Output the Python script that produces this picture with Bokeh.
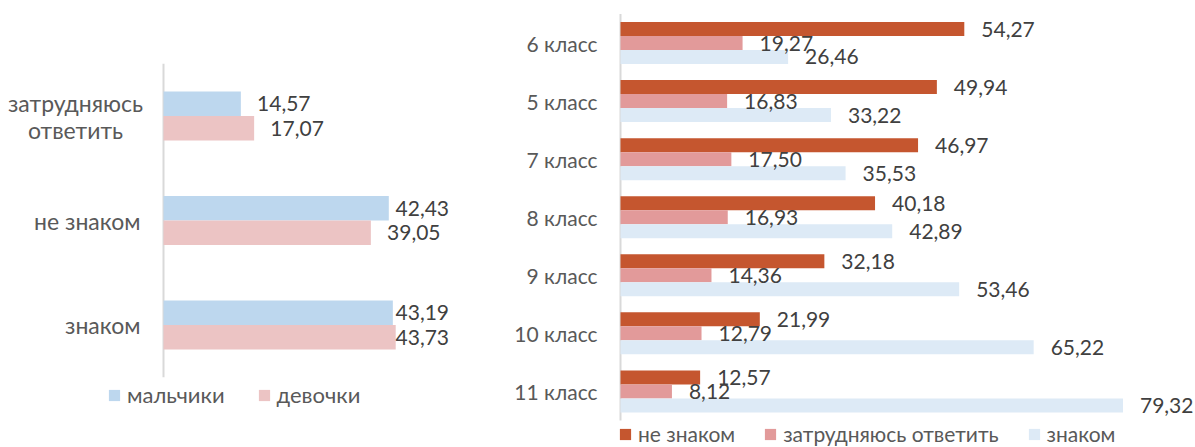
import numpy as np
from bokeh.plotting import figure
from bokeh.models import ColumnDataSource, Legend, LegendItem, Range1d
from bokeh.layouts import row
from bokeh.embed import file_html
from bokeh.resources import INLINE
from bokeh.core.properties import value

# ---------------- data ----------------
left_cats = ["затрудняюсь\nответить", "не знаком", "знаком"]
left_series = ["мальчики", "девочки"]
boys = [14.57, 42.43, 43.19]
girls = [17.07, 39.05, 43.73]

right_cats = ["6 класс", "5 класс", "7 класс", "8 класс", "9 класс", "10 класс", "11 класс"]
right_series = ["не знаком", "затрудняюсь ответить", "знаком"]
not_familiar = [54.27, 49.94, 46.97, 40.18, 32.18, 21.99, 12.57]
hard_to_say = [19.27, 16.83, 17.50, 16.93, 14.36, 12.79, 8.12]
familiar = [26.46, 33.22, 35.53, 42.89, 53.46, 65.22, 79.32]

FONT = "Lato"
TXT = "#595959"
NUM = "#404040"
AXIS = "#d9d9d9"
H = 446


def fmt(v):
    return f"{v:.2f}".replace(".", ",")


def make_fig(width, origin_px, px_per_unit, first_center_px, cat_step_px):
    """Figure whose frame fills the whole canvas; value 0 sits at origin_px."""
    xr = Range1d(-origin_px / px_per_unit, (width - origin_px) / px_per_unit)
    # inverted categorical-index axis: first category at the top
    yr = Range1d((H - first_center_px) / cat_step_px, -first_center_px / cat_step_px)
    p = figure(width=width, height=H, output_backend="svg", toolbar_location=None,
               x_range=xr, y_range=yr, min_border=0)
    p.axis.visible = False
    p.grid.visible = False
    p.outline_line_color = None
    return p


def draw_categories(p, cats, size, line_px, wrap_center_off, right_off):
    """Single-line labels right-aligned; wrapped labels as centred lines."""
    single = dict(y=[], t=[])
    wrapped = dict(y=[], t=[], yo=[])
    for i, c in enumerate(cats):
        parts = c.split("\n")
        k = len(parts)
        if k == 1:
            single["y"].append(i)
            single["t"].append(c)
        else:
            for j, t in enumerate(parts):
                wrapped["y"].append(i)
                wrapped["t"].append(t)
                wrapped["yo"].append((j - (k - 1) / 2) * line_px)
    common = dict(text_font=value(FONT), text_font_size=size, text_color=TXT,
                  text_baseline="middle")
    p.text(x=0, y="y", text="t", source=ColumnDataSource(single), x_offset=right_off,
           text_align="right", **common)
    if wrapped["y"]:
        p.text(x=0, y="y", text="t", source=ColumnDataSource(wrapped), x_offset=wrap_center_off,
               y_offset="yo", text_align="center", **common)


# ---------------- left chart ----------------
lp = make_fig(478, 163, 5.31, 115.5, 104.5)
nl = len(left_cats)
lidx = np.arange(nl)
lh = 0.234

lsrc = ColumnDataSource(dict(
    y_b=lidx - lh / 2, y_g=lidx + lh / 2,
    boys=boys, girls=girls,
    boys_lx=np.minimum(np.array(boys) + 3.05, 43.7),
    girls_lx=np.minimum(np.array(girls) + 3.05, 43.7),
    boys_t=[fmt(v) for v in boys], girls_t=[fmt(v) for v in girls],
))
lp.segment(x0=0, x1=0, y0=-0.5, y1=nl - 0.5, line_color=AXIS, line_width=2)
r_b = lp.hbar(y="y_b", left=0, right="boys", height=lh, source=lsrc,
              fill_color="#bdd7ee", line_color=None)
r_g = lp.hbar(y="y_g", left=0, right="girls", height=lh, source=lsrc,
              fill_color="#ecc4c4", line_color=None)
lp.text(x="boys_lx", y="y_b", text="boys_t", source=lsrc,
        text_font=value(FONT), text_font_size="21px", text_color=NUM,
        text_baseline="middle", text_align="left")
lp.text(x="girls_lx", y="y_g", text="girls_t", source=lsrc,
        text_font=value(FONT), text_font_size="21px", text_color=NUM,
        text_baseline="middle", text_align="left")
draw_categories(lp, left_cats, "23px", 27, -88, -23)

lleg = Legend(items=[LegendItem(label=left_series[0], renderers=[r_b]),
                     LegendItem(label=left_series[1], renderers=[r_g])],
              orientation="horizontal", location=(107, 38),
              glyph_width=14, glyph_height=14, label_standoff=6, spacing=32,
              padding=0, margin=0, border_line_color=None, background_fill_alpha=0,
              label_text_font=FONT, label_text_font_size="22px", label_text_color=TXT)
lp.add_layout(lleg)

# ---------------- right chart ----------------
rp = make_fig(716, 142, 6.335, 42.5, 58.07)
nr = len(right_cats)
ridx = np.arange(nr)
rh = 0.241
offsets = [-rh, 0, rh]

rsrc = ColumnDataSource(dict(
    ya=ridx + offsets[0], yb=ridx + offsets[1], yc=ridx + offsets[2],
    a=not_familiar, b=hard_to_say, c=familiar,
    at=[fmt(v) for v in not_familiar], bt=[fmt(v) for v in hard_to_say],
    ct=[fmt(v) for v in familiar],
))
rp.segment(x0=0, x1=0, y0=-0.5, y1=nr - 0.5, line_color=AXIS, line_width=2)
colors = ["#c5562f", "#e29a9a", "#ddeaf6"]
rends = []
for col, clr in zip(["a", "b", "c"], colors):
    r = rp.hbar(y="y" + col, left=0, right=col, height=rh, source=rsrc,
                fill_color=clr, line_color=None)
    rends.append(r)
for col in ["a", "b", "c"]:
    rp.text(x=col, y="y" + col, text=col + "t", source=rsrc,
            x_offset=17, text_font=value(FONT), text_font_size="21px", text_color=NUM,
            text_baseline="middle", text_align="left")
draw_categories(rp, right_cats, "21px", 27, -60, -23)

rleg = Legend(items=[LegendItem(label=s, renderers=[r]) for s, r in zip(right_series, rends)],
              orientation="horizontal", location=(140, 0),
              glyph_width=14, glyph_height=14, label_standoff=6, spacing=28,
              padding=0, margin=0, border_line_color=None, background_fill_alpha=0,
              label_text_font=FONT, label_text_font_size="21px", label_text_color=TXT)
rp.add_layout(rleg)

layout = row(lp, rp, spacing=0)
open("out.html", "w").write(file_html(layout, INLINE))
